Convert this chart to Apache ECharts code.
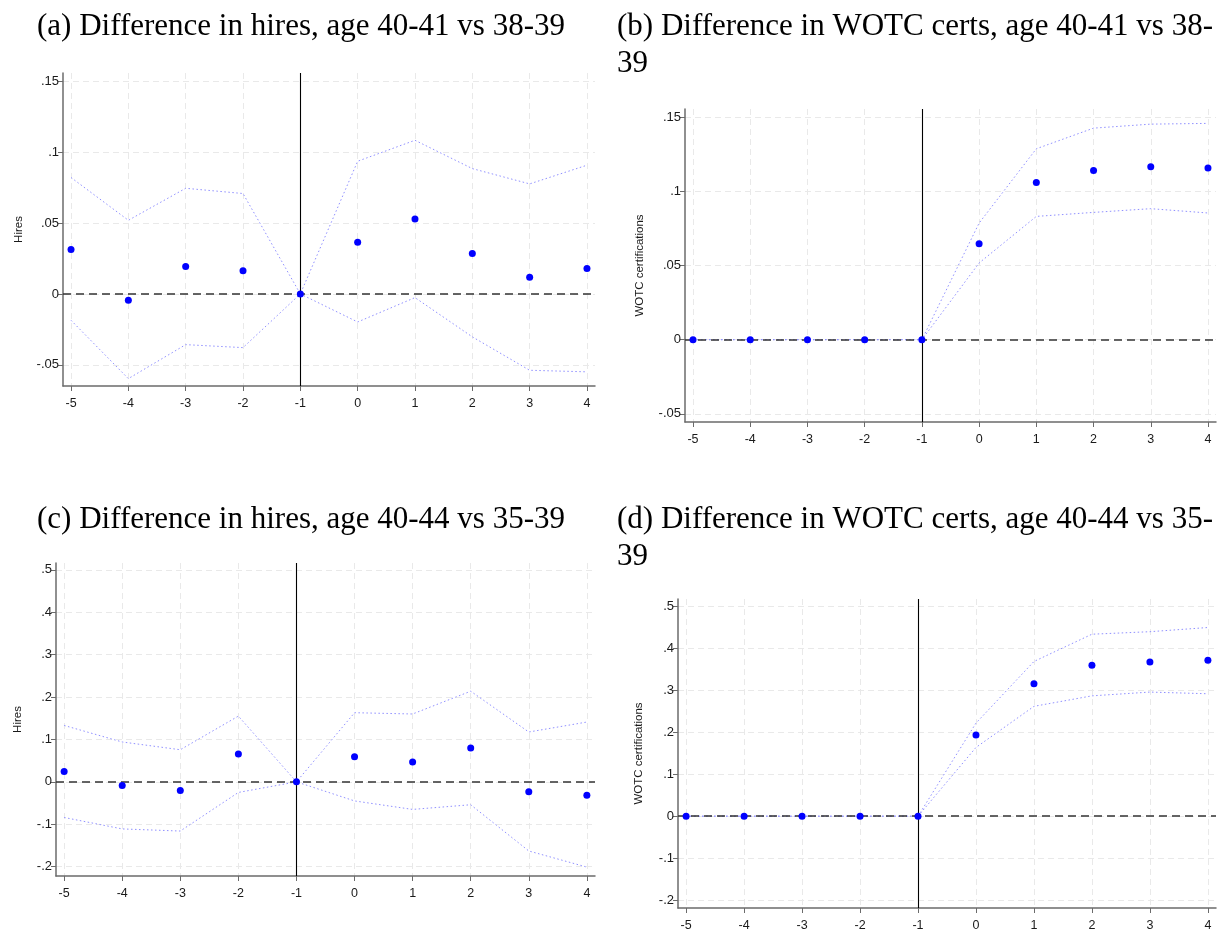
<!DOCTYPE html>
<html>
<head>
<meta charset="utf-8">
<script src="https://cdn.jsdelivr.net/npm/echarts@6/dist/echarts.min.js"></script>
<style>
  html, body { margin: 0; padding: 0; background: #fff; }
  #chart { width: 1230px; height: 932px; }
</style>
</head>
<body>
<div id="chart"></div>
<script>
// Event time relative to the policy change
const eventTime = [-5, -4, -3, -2, -1, 0, 1, 2, 3, 4];

// (a) Hires, age 40-41 vs 38-39
const hiresA_est = [0.0314, -0.0045, 0.0193, 0.0163, 0, 0.0365, 0.0530, 0.0285, 0.0118, 0.0179];
const hiresA_hi  = [0.0822, 0.0520, 0.0746, 0.0709, 0, 0.0937, 0.1085, 0.0885, 0.0777, 0.0909];
const hiresA_lo  = [-0.0186, -0.0598, -0.0358, -0.0379, 0, -0.0198, -0.0026, -0.0303, -0.0539, -0.0550];
const hiresA_ticks = [-0.05, 0, 0.05, 0.1, 0.15];

// (b) WOTC certifications, age 40-41 vs 38-39
const wotcB_est = [0, 0, 0, 0, 0, 0.0647, 0.1060, 0.1141, 0.1166, 0.1157];
const wotcB_hi  = [0, 0, 0, 0, 0, 0.0786, 0.1287, 0.1426, 0.1453, 0.1458];
const wotcB_lo  = [0, 0, 0, 0, 0, 0.0517, 0.0831, 0.0858, 0.0883, 0.0854];
const wotcB_ticks = [-0.05, 0, 0.05, 0.1, 0.15];

// (c) Hires, age 40-44 vs 35-39
const hiresC_est = [0.0245, -0.0087, -0.0205, 0.0655, 0, 0.0590, 0.0466, 0.0797, -0.0236, -0.0314];
const hiresC_hi  = [0.133, 0.094, 0.0757, 0.155, 0, 0.163, 0.160, 0.2137, 0.1175, 0.141];
const hiresC_lo  = [-0.084, -0.111, -0.116, -0.025, 0, -0.045, -0.065, -0.054, -0.163, -0.201];
const hiresC_ticks = [-0.2, -0.1, 0, 0.1, 0.2, 0.3, 0.4, 0.5];

// (d) WOTC certifications, age 40-44 vs 35-39
const wotcD_est = [0, 0, 0, 0, 0, 0.1934, 0.316, 0.360, 0.368, 0.372];
const wotcD_hi  = [0, 0, 0, 0, 0, 0.222, 0.369, 0.434, 0.440, 0.450];
const wotcD_lo  = [0, 0, 0, 0, 0, 0.164, 0.262, 0.287, 0.296, 0.292];
const wotcD_ticks = [-0.2, -0.1, 0, 0.1, 0.2, 0.3, 0.4, 0.5];

const titles = [
  '(a) Difference in hires, age 40-41 vs 38-39',
  '(b) Difference in WOTC certs, age 40-41 vs 38-\n39',
  '(c) Difference in hires, age 40-44 vs 35-39',
  '(d) Difference in WOTC certs, age 40-44 vs 35-\n39'
];
const yNames = ['Hires', 'WOTC certifications', 'Hires', 'WOTC certifications'];

const panels = [
  { est: hiresA_est, hi: hiresA_hi, lo: hiresA_lo, ticks: hiresA_ticks, ymin: -0.065, ymax: 0.156,
    grid: { left: 63, top: 73, width: 532, height: 313 }, title: { left: 37, top: 8 }, nameGap: 38 },
  { est: wotcB_est, hi: wotcB_hi, lo: wotcB_lo, ticks: wotcB_ticks, ymin: -0.0555, ymax: 0.1555,
    grid: { left: 685, top: 109, width: 531, height: 313 }, title: { left: 617, top: 8 }, nameGap: 39 },
  { est: hiresC_est, hi: hiresC_hi, lo: hiresC_lo, ticks: hiresC_ticks, ymin: -0.222, ymax: 0.516,
    grid: { left: 56, top: 563, width: 539, height: 313 }, title: { left: 37, top: 501 }, nameGap: 32 },
  { est: wotcD_est, hi: wotcD_hi, lo: wotcD_lo, ticks: wotcD_ticks, ymin: -0.219, ymax: 0.518,
    grid: { left: 678, top: 599, width: 538, height: 313 }, title: { left: 617, top: 501 }, nameGap: 33 }
];

const sansFont = '"Liberation Sans", Arial, sans-serif';
const serifFont = '"Liberation Serif", "DejaVu Serif", serif';
const gridLine = { show: true, lineStyle: { color: '#e9e9e9', width: 1, type: [6, 4] } };

function fmtY(v) {
  const s = String(+v.toFixed(3));
  return s.replace(/^(-?)0\./, '$1.');
}

const option = {
  animation: false,
  backgroundColor: '#ffffff',
  title: panels.map((p, i) => ({
    text: titles[i],
    left: p.title.left,
    top: p.title.top,
    padding: 0,
    textStyle: { fontFamily: serifFont, fontSize: 31, fontWeight: 'normal', color: '#000', lineHeight: 37 }
  })),
  grid: panels.map(p => Object.assign({ containLabel: false }, p.grid)),
  xAxis: panels.map((p, i) => ({
    type: 'value',
    gridIndex: i,
    min: -5.14,
    max: 4.14,
    position: 'bottom',
    axisLine: { show: true, onZero: false, lineStyle: { color: '#6b6b6b', width: 1.5 } },
    axisTick: { show: true, length: 5, customValues: eventTime, lineStyle: { color: '#6b6b6b', width: 1 } },
    axisLabel: { customValues: eventTime, color: '#1a1a1a', fontFamily: sansFont, fontSize: 12.5, margin: 11,
                 formatter: v => String(v) },
    splitLine: gridLine
  })),
  yAxis: panels.map((p, i) => ({
    type: 'value',
    gridIndex: i,
    min: p.ymin,
    max: p.ymax,
    name: yNames[i],
    nameLocation: 'middle',
    nameGap: p.nameGap,
    nameRotate: 90,
    nameTextStyle: { fontFamily: sansFont, fontSize: 11.5, color: '#1a1a1a' },
    axisLine: { show: true, onZero: false, lineStyle: { color: '#6b6b6b', width: 1.5 } },
    axisTick: { show: true, length: 5, customValues: p.ticks, lineStyle: { color: '#6b6b6b', width: 1 } },
    axisLabel: { customValues: p.ticks, color: '#1a1a1a', fontFamily: sansFont, fontSize: 13, margin: 4,
                 formatter: fmtY },
    splitLine: gridLine
  })),
  series: []
};

panels.forEach((p, i) => {
  const ciStyle = { color: '#9090ff', width: 1, type: [1.5, 2.5] };
  option.series.push({
    type: 'line', xAxisIndex: i, yAxisIndex: i, showSymbol: false, silent: true,
    data: eventTime.map((x, k) => [x, p.hi[k]]),
    lineStyle: ciStyle, z: 3,
    markLine: {
      silent: true, symbol: 'none', label: { show: false },
      data: [
        { yAxis: 0, lineStyle: { color: '#333333', width: 1.5, type: [8, 5] } },
        { xAxis: -1, lineStyle: { color: '#000000', width: 1.1, type: 'solid' } }
      ]
    }
  });
  option.series.push({
    type: 'line', xAxisIndex: i, yAxisIndex: i, showSymbol: false, silent: true,
    data: eventTime.map((x, k) => [x, p.lo[k]]),
    lineStyle: ciStyle, z: 3
  });
  option.series.push({
    type: 'scatter', xAxisIndex: i, yAxisIndex: i, symbolSize: 7,
    itemStyle: { color: '#0000ff', opacity: 1 },
    data: eventTime.map((x, k) => [x, p.est[k]]), z: 5
  });
});

const chart = echarts.init(document.getElementById('chart'), null, { renderer: 'canvas' });
chart.setOption(option);
</script>
</body>
</html>
